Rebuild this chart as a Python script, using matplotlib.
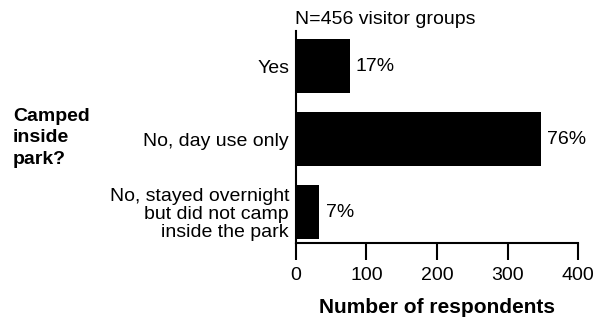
import numpy as np
import matplotlib.pyplot as plt

plt.rcParams['font.family'] = ['Liberation Sans', 'DejaVu Sans']

# survey answers
categories = ["Yes", "No, day use only",
              "No, stayed overnight\nbut did not camp\ninside the park"]
counts = [76, 347, 33]
pct_labels = ["17%", "76%", "7%"]
xticks = [0, 100, 200, 300, 400]

fig = plt.figure(figsize=(5.97, 3.18), dpi=100)
ax = fig.add_axes([0.4958, 0.2358, 0.4724, 0.6667])

y = np.arange(len(categories))
ax.barh(y, counts, height=0.74, color='black')

for yi, c, p in zip(y, counts, pct_labels):
    ax.text(c + 9, yi, p, va='center', ha='left', fontsize=14)

ax.set_ylim(2.42, -0.48)
ax.set_xlim(0, 400)
ax.set_xticks(xticks)
ax.set_yticks(y)
ax.set_yticklabels(categories, fontsize=14, linespacing=1.06)
ax.tick_params(axis='y', length=0, pad=5)
ax.tick_params(axis='x', length=12, width=1.5, labelsize=14, pad=5)

for s in ['top', 'right']:
    ax.spines[s].set_visible(False)
for s in ['left', 'bottom']:
    ax.spines[s].set_linewidth(1.5)

ax.set_xlabel("Number of respondents", fontsize=15, fontweight='bold', labelpad=10)

fig.text(295 / 597, 1 - 19 / 318, "N=456 visitor groups", fontsize=14,
         ha='left', va='center')
fig.text(13 / 597, 1 - 138 / 318, "Camped\ninside\npark?", fontsize=14,
         fontweight='bold', ha='left', va='center', linespacing=1.32)

fig.savefig("out.png", dpi=100)
